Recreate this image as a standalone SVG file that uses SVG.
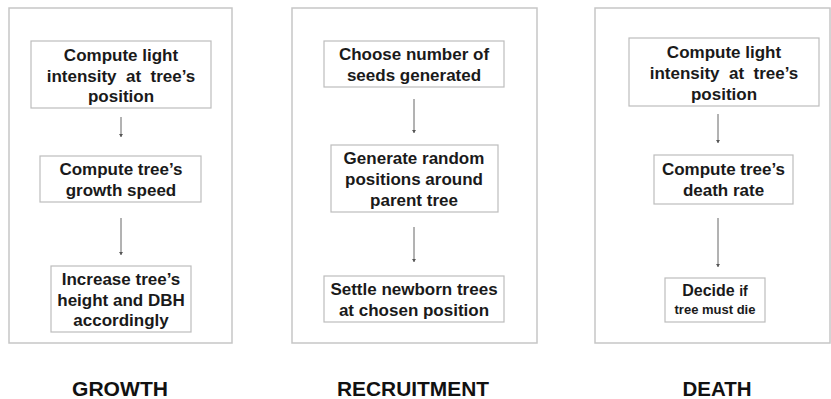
<svg xmlns="http://www.w3.org/2000/svg" width="831" height="399" viewBox="0 0 831 399">
<style>
.panel{fill:#fff;stroke:#c6c6c6;stroke-width:1.5}
.box{fill:#fff;stroke:#bdbdbd;stroke-width:1.2}
.t{font-family:"Liberation Sans",Arial,sans-serif;font-weight:bold;font-size:17px;fill:#1a1a1a;text-anchor:middle;white-space:pre}
.s{font-size:13px}
.lab{font-family:"Liberation Sans",Arial,sans-serif;font-weight:bold;font-size:20px;fill:#111;text-anchor:middle}
.c{stroke:#666;stroke-width:1;fill:none;marker-end:url(#ah)}
</style>
<defs>
<marker id="ah" markerWidth="4" markerHeight="4" refX="3" refY="2" orient="auto" markerUnits="userSpaceOnUse">
<path d="M0,0 L3,2 L0,4 z" fill="#555"/>
</marker>
</defs>
<rect width="831" height="399" fill="#fff"/>
<g id="panels">
<rect class="panel" x="9" y="8" width="223" height="335"/>
<rect class="panel" x="292" y="8" width="245" height="335"/>
<rect class="panel" x="595" y="8" width="235" height="335"/>
</g>
<g id="connectors">
<line class="c" x1="121" y1="117" x2="121" y2="137"/>
<line class="c" x1="121" y1="218" x2="121" y2="255"/>
<line class="c" x1="414" y1="99" x2="414" y2="133"/>
<line class="c" x1="414" y1="227" x2="414" y2="262"/>
<line class="c" x1="718" y1="114" x2="718" y2="143"/>
<line class="c" x1="718" y1="218" x2="718" y2="267"/>
</g>
<g id="g1">
<rect class="box" x="31" y="41" width="180" height="67"/>
<text class="t" x="121" y="60.5">Compute light</text>
<text class="t" x="121" y="81.5" xml:space="preserve">intensity  at  tree’s</text>
<text class="t" x="121" y="102">position</text>
</g>
<g id="g2">
<rect class="box" x="40" y="156" width="161" height="46"/>
<text class="t" x="121" y="174.5">Compute tree’s</text>
<text class="t" x="121" y="195.5">growth speed</text>
</g>
<g id="g3">
<rect class="box" x="51" y="266" width="140" height="66"/>
<text class="t" x="121" y="284.5">Increase tree’s</text>
<text class="t" x="121" y="305.5">height and DBH</text>
<text class="t" x="121" y="326">accordingly</text>
</g>
<g id="r1">
<rect class="box" x="324" y="41" width="180" height="46"/>
<text class="t" x="414" y="59.5">Choose number of</text>
<text class="t" x="414" y="80.5">seeds generated</text>
</g>
<g id="r2">
<rect class="box" x="331" y="145" width="167" height="67"/>
<text class="t" x="414" y="163.5">Generate random</text>
<text class="t" x="414" y="184.5">positions around</text>
<text class="t" x="414" y="205.5">parent tree</text>
</g>
<g id="r3">
<rect class="box" x="324" y="276" width="180" height="46"/>
<text class="t" x="414" y="294.5">Settle newborn trees</text>
<text class="t" x="414" y="315.5">at chosen position</text>
</g>
<g id="d1">
<rect class="box" x="629" y="38" width="190" height="68"/>
<text class="t" x="724" y="57.5">Compute light</text>
<text class="t" x="724" y="78.5" xml:space="preserve">intensity  at  tree’s</text>
<text class="t" x="724" y="99.5">position</text>
</g>
<g id="d2">
<rect class="box" x="654" y="155" width="139" height="49"/>
<text class="t" x="723.5" y="175">Compute tree’s</text>
<text class="t" x="723.5" y="196">death rate</text>
</g>
<g id="d3">
<rect class="box" x="665" y="278" width="100" height="44"/>
<text class="t" x="715" y="295.5" style="font-size:16px">Decide <tspan style="font-size:14px">if</tspan></text>
<text class="t s" x="715" y="313.5">tree must die</text>
</g>
<g id="labels">
<text class="lab" x="120" y="396" textLength="96" lengthAdjust="spacingAndGlyphs">GROWTH</text>
<text class="lab" x="413" y="396" textLength="152" lengthAdjust="spacingAndGlyphs">RECRUITMENT</text>
<text class="lab" x="717" y="396" textLength="69" lengthAdjust="spacingAndGlyphs">DEATH</text>
</g>
</svg>
